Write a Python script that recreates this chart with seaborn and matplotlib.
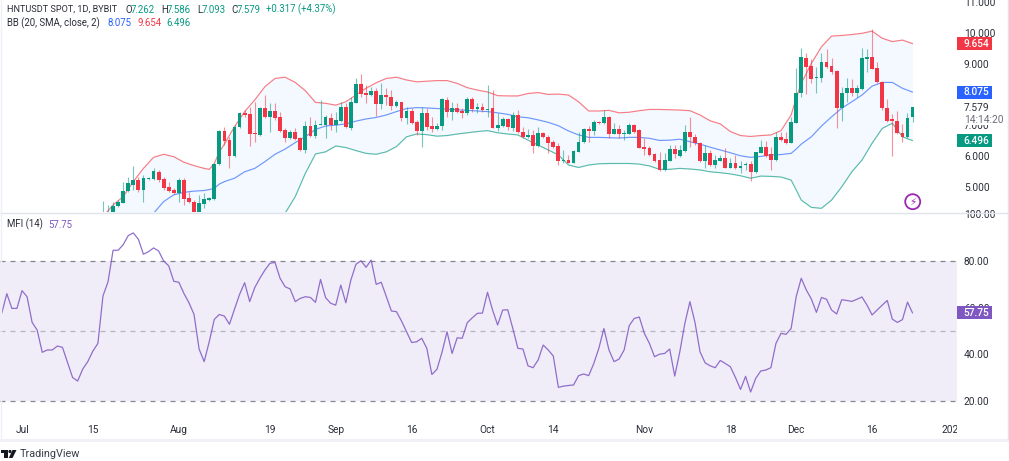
import numpy as np
import pandas as pd
import matplotlib
matplotlib.use("Agg")
import matplotlib.pyplot as plt
import seaborn as sns
from matplotlib.patches import Rectangle, Circle, Polygon
from matplotlib.lines import Line2D
from matplotlib.transforms import Affine2D, Bbox

# days counted from 1 Jul
candle_start = 16
opens = [4.02,4.02,4.13,4.37,4.47,4.86,5.05,5.21,4.89,5.23,5.24,5.48,5.23,4.97,4.89,4.80,5.21,4.61,4.51,4.13,4.43,4.57,4.59,5.73,6.81,6.51,6.00,6.93,7.38,7.35,6.73,6.68,7.55,7.27,7.46,7.25,6.84,6.58,6.78,6.58,6.19,6.98,6.66,7.01,7.00,7.24,7.00,
         7.14,7.58,6.92,7.73,8.34,8.03,7.97,8.12,7.68,7.98,7.92,7.62,7.74,7.22,7.46,7.09,6.81,7.38,6.98,6.88,6.97,7.82,7.44,7.55,7.46,7.38,7.84,7.52,7.58,7.50,7.55,6.91,6.98,7.20,6.89,7.33,6.78,6.62,6.68,6.32,6.74,6.62,6.44,6.32,5.82,5.86,5.77,6.13,6.44,6.87,6.81,7.10,7.06,7.27,6.72,6.86,6.71,6.72,7.00,6.83,6.29,6.24,6.05,5.86,5.54,5.84,6.23,6.01,
         6.17,6.78,6.60,6.43,5.83,6.08,5.70,5.84,5.94,5.61,5.75,5.61,5.69,5.73,5.47,6.10,6.29,6.06,5.86,6.61,6.54,6.43,7.08,8.03,9.20,8.93,8.53,8.53,9.07,8.93,8.76,7.55,8.03,8.21,8.06,8.18,9.16,9.21,8.85,8.41,7.55,7.16,7.13,6.73,6.60,7.262]
highs = [4.53,4.40,4.51,4.56,5.16,5.32,5.67,5.32,5.37,5.32,5.59,5.54,5.32,5.16,4.94,5.27,5.27,4.83,4.56,4.72,4.78,4.67,5.75,6.84,6.95,6.62,7.00,7.44,7.49,7.60,7.76,7.60,7.98,7.73,7.71,7.42,6.89,6.84,6.92,6.62,7.14,7.25,7.17,7.82,7.33,7.38,7.44,
         7.76,7.73,7.93,8.52,8.65,8.31,8.25,8.20,8.36,8.20,8.14,7.82,7.76,7.60,7.55,7.17,7.60,7.55,7.27,7.06,7.87,7.93,7.76,7.73,7.55,7.90,7.90,7.71,7.71,8.31,8.14,7.38,7.27,7.24,7.44,7.49,6.95,6.87,6.84,6.95,6.79,6.68,6.52,6.41,6.19,6.03,6.19,6.79,6.89,6.98,7.17,7.13,7.49,7.30,7.06,7.00,6.84,7.06,7.04,6.86,6.59,6.32,6.08,6.13,6.10,6.35,6.35,6.35,
         7.00,7.25,6.70,6.46,6.35,6.19,6.03,6.03,6.24,5.92,6.03,5.83,5.81,5.83,6.13,6.51,6.49,6.30,6.79,6.79,6.79,7.27,8.85,9.50,9.34,9.14,8.90,9.34,9.47,9.20,8.79,8.25,8.52,8.50,8.31,9.50,9.47,10.12,9.07,8.44,7.84,7.35,7.47,7.04,7.40,7.586]
lows = [3.91,3.95,4.05,4.32,4.45,4.83,4.89,4.83,4.51,5.21,5.21,5.16,4.89,4.83,4.75,4.51,4.40,4.45,4.02,4.02,4.29,4.54,4.56,5.70,6.35,5.61,5.97,6.89,7.27,6.33,6.46,6.64,7.22,6.79,7.17,6.76,6.46,6.54,6.51,6.17,6.08,6.62,6.57,6.99,6.57,6.84,6.79,
        7.11,6.89,6.84,7.71,7.93,7.73,7.95,7.31,7.52,7.65,7.49,7.58,7.14,7.03,7.04,6.68,6.30,6.84,6.79,6.84,6.84,7.27,7.17,7.40,7.22,7.33,7.44,7.40,7.42,7.27,6.89,6.82,6.95,6.84,6.82,6.73,6.57,6.57,6.10,6.28,6.57,6.08,6.24,5.70,5.75,5.75,5.75,6.11,6.41,6.44,6.68,7.04,7.04,6.59,6.70,6.57,6.51,6.70,6.73,6.24,6.03,6.00,5.81,5.52,5.52,5.82,5.92,5.97,
        6.13,6.30,6.35,5.81,5.59,5.67,5.59,5.82,5.59,5.59,5.58,5.43,5.54,5.19,5.45,6.08,5.97,5.54,5.84,6.48,6.38,6.41,7.06,7.90,8.01,8.36,8.03,8.41,8.85,8.66,6.89,7.13,7.76,7.95,7.93,8.15,8.74,8.82,8.36,7.49,7.11,6.00,6.71,6.46,6.57,7.093]
closes = [4.13,4.16,4.38,4.50,4.86,5.10,5.21,4.89,5.27,5.27,5.50,5.21,4.94,4.86,4.78,5.21,4.59,4.48,4.13,4.45,4.59,4.61,5.73,6.81,6.48,6.00,6.95,7.40,7.33,6.71,6.70,7.55,7.27,7.46,7.22,6.81,6.58,6.78,6.56,6.19,6.98,6.66,7.00,7.04,7.25,7.00,7.17,
          7.58,6.93,7.74,8.34,8.00,7.99,8.12,7.69,7.98,7.90,7.62,7.74,7.22,7.46,7.08,6.81,7.38,6.95,6.88,6.98,7.84,7.44,7.55,7.44,7.38,7.84,7.51,7.58,7.49,7.54,6.92,7.00,7.21,6.93,7.33,6.76,6.60,6.68,6.32,6.74,6.60,6.43,6.30,5.83,5.85,5.77,6.17,6.46,6.87,6.82,7.10,7.08,7.26,6.72,6.86,6.71,6.75,7.00,6.78,6.26,6.23,6.03,5.84,5.54,5.86,6.22,6.07,6.19,
          6.76,6.60,6.41,5.83,6.08,5.70,5.85,5.94,5.61,5.75,5.60,5.68,5.73,5.47,6.11,6.29,6.00,5.86,6.61,6.51,6.43,7.09,8.06,9.21,8.90,8.50,8.56,9.07,8.90,8.74,7.55,8.05,8.21,8.06,8.21,9.18,9.21,8.84,8.39,7.55,7.14,7.15,6.73,6.60,7.24,7.579]

band_days = [16,18,20,22,24,26,28,30,32,34,36,37,38,39,40,42,44,46,48,50,52,54,56,58,60,62,
             64,66,68,70,72,74,76,78,80,82,84,86,88,90,92,94,96,98,100,102,104,106,108,110,112,114,116,118,120,122,124,126,128,130,
             132,134,136,138,140,142,144,146,148,150,152,153,154,156,158,160,162,164,166,168,170,172,174,176]
bb_upper = [4.02,4.40,4.67,5.16,5.59,5.95,6.05,5.97,5.79,5.68,5.59,5.56,5.75,6.13,6.38,6.95,7.44,7.82,8.25,8.52,8.56,8.39,8.12,7.74,7.71,7.65,
            7.76,7.98,8.20,8.38,8.52,8.56,8.47,8.41,8.43,8.45,8.45,8.36,8.22,8.14,8.08,7.96,7.95,7.95,8.03,8.06,8.00,8.01,7.98,7.76,7.46,7.46,7.48,7.40,7.42,7.47,7.51,7.51,7.50,7.49,
            7.47,7.33,7.14,7.04,6.79,6.66,6.63,6.66,6.68,6.82,7.33,7.87,8.36,9.01,9.55,9.90,9.92,9.95,9.99,10.06,9.83,9.72,9.77,9.654]
bb_basis = [2.50,2.71,2.93,3.20,3.58,4.13,4.51,4.73,4.81,4.85,4.87,4.90,4.94,5.08,5.16,5.27,5.48,5.59,5.81,6.05,6.22,6.43,6.62,6.86,6.97,7.00,
            7.04,7.13,7.20,7.25,7.33,7.44,7.54,7.57,7.56,7.54,7.52,7.50,7.48,7.46,7.44,7.40,7.35,7.27,7.24,7.17,7.09,6.98,6.81,6.68,6.60,6.60,6.59,6.58,6.60,6.60,6.57,6.50,6.51,6.54,
            6.46,6.38,6.28,6.19,6.10,6.00,5.95,5.98,6.03,6.04,6.08,6.22,6.38,6.62,6.97,7.27,7.55,7.76,7.98,8.27,8.39,8.39,8.20,8.075]
bb_lower = [0.87,0.98,1.09,1.30,1.52,1.74,1.85,1.95,2.17,2.39,2.50,2.55,2.61,2.71,2.82,3.15,3.37,3.58,3.80,4.02,4.13,4.67,5.43,6.06,6.13,6.32,
            6.27,6.17,6.08,6.05,6.13,6.30,6.62,6.71,6.69,6.64,6.66,6.71,6.75,6.79,6.82,6.75,6.71,6.68,6.51,6.35,6.19,6.03,5.70,5.62,5.70,5.74,5.75,5.75,5.75,5.73,5.67,5.56,5.56,5.59,
            5.57,5.54,5.48,5.45,5.41,5.35,5.27,5.34,5.33,5.31,5.21,4.89,4.56,4.32,4.29,4.56,4.99,5.48,5.86,6.41,6.89,7.06,6.62,6.496]

mfi = [57.6,66,59.7,59.7,67.3,64.7,53.7,50.4,40.9,41.9,41.9,43.6,43,36.6,30.1,28.6,33.7,36.9,41.4,44.7,65,71.1,84.6,84.6,87,90.9,92,89.3,82.9,84,85.6,84.3,80,77.9,71.3,70.9,66.1,62.1,57.1,42.3,36.9,45.4,55,57.1,56.4,52.9,59.4,65.7,70.7,62.6,68.6,72.6,76.1,79,79.4,72.6,69,68,62.6,64,64.7,64.4,62.3,72.1,64.3,61.9,61.1,
       69.7,62.1,71.9,78.6,80.1,77.3,80.4,70,70.9,64.7,58.6,58.3,54.3,49.7,45.1,45.4,46.9,42.6,31.4,33.6,40.9,49.7,40.4,47.1,46.9,53.6,55.7,57.6,57.7,66.6,59,52.6,59,59.1,51.1,42.6,42.3,35.1,34.3,37.6,44,41.9,39.3,25.9,26.4,26.7,26.9,30.9,31.6,30.9,36.1,42.6,51.1,41.9,36.9,38,41.9,52.3,55.4,56,49,44.7,39,40.1,40.4,42.3,30.7,41.1,
       53.3,62.6,53.7,41.1,36.4,35.1,34.3,37.4,36.1,34.7,30.1,25,30.6,23.9,29.7,32.9,33.3,34.3,44.7,49,48.6,51.1,64.7,72.6,67.6,63.7,58,64.4,63.6,59,57.3,63.4,63.1,62.7,63.6,64.6,61.1,56.9,59,61.1,63.1,55.1,53.7,54.9,62.4,57.75]

time_ticks = [0,14,31,49,62,77,92,105,123,140,153,168,184]
time_labels = ["Jul","15","Aug","19","Sep","16","Oct","14","Nov","18","Dec","16","2025"]
price_ticks = [5,6,7,9,10,11]
mfi_ticks = [20,40,60,80,100]

GREEN = "#089981"
RED = "#F23645"
BLUE = "#2962FF"
PURPLE = "#7E57C2"
TEXT = "#2a2e39"
LABEL_SIZE = 7.3
LEGEND_SIZE = 6.9

sns.set_theme(style="white")
plt.rcParams["font.family"] = ["Roboto", "DejaVu Sans"]

W, H = 1009, 461
fig = plt.figure(figsize=(W / 100, H / 100), dpi=100, facecolor="white")
ax1 = fig.add_axes([0, 1 - 212 / H, 957 / W, 212 / H])
ax2 = fig.add_axes([0, 1 - 412 / H, 957 / W, 199 / H])
# pixel coords, origin top left
px = Affine2D().scale(1, -1).translate(0, H)


def px_text(x, y, s, color=TEXT, size=LEGEND_SIZE, **kw):
    fig.text(x, y, s, transform=px, color=color, fontsize=size, va="center", ha=kw.pop("ha", "left"), **kw)


def badge(ax, value, label, color):
    # coloured price tag on the right scale
    lo, hi = ax.get_ylim()
    h = 13 * (hi - lo) / (ax.get_position().height * H)
    ax.add_patch(Rectangle((1, value - h / 2), 35 / 957, h, transform=ax.get_yaxis_transform(),
                           facecolor=color, edgecolor="none", clip_on=False, zorder=5))
    ax.text(1 + 6.5 / 957, value, label, transform=ax.get_yaxis_transform(), color="white",
            fontsize=LABEL_SIZE, fontweight="medium", va="center", ha="left", zorder=6)


# =========== price pane ===========
candles = pd.DataFrame({"day": np.arange(candle_start, candle_start + len(opens)),
                        "open": opens, "high": highs, "low": lows, "close": closes})
candles["color"] = np.where(candles["close"] >= candles["open"], GREEN, RED)
bands = pd.DataFrame({"day": band_days, "upper": bb_upper, "basis": bb_basis, "lower": bb_lower})

ax1.fill_between(bands["day"], bands["lower"], bands["upper"], color="#2196F3", alpha=0.05, lw=0, zorder=1)
sns.lineplot(data=bands, x="day", y="upper", color=RED, lw=0.85, alpha=0.65, ax=ax1, zorder=2)
sns.lineplot(data=bands, x="day", y="basis", color=BLUE, lw=0.85, alpha=0.65, ax=ax1, zorder=2)
sns.lineplot(data=bands, x="day", y="lower", color=GREEN, lw=0.85, alpha=0.65, ax=ax1, zorder=2)

ax1.vlines(candles["day"], candles["low"], candles["high"], colors=candles["color"], lw=0.8, alpha=0.55, zorder=3)
ax1.bar(candles["day"], (candles["close"] - candles["open"]).abs().clip(lower=0.035),
        bottom=candles[["open", "close"]].min(axis=1), width=0.75, color=candles["color"], lw=0, zorder=4)

ax1.set_xlim(-22 / 5.06, 935 / 5.06)
ax1.set_ylim(4.17, 11.075)
ax1.set_xticks([])
ax1.set_yticks(price_ticks, [f"{p:.3f}" for p in price_ticks])
ax1.yaxis.tick_right()
ax1.tick_params(axis="y", length=0, pad=5, labelsize=LABEL_SIZE, labelcolor=TEXT)
ax1.set_xlabel("")
ax1.set_ylabel("")

badge(ax1, 9.654, "9.654", RED)
badge(ax1, 8.075, "8.075", BLUE)
badge(ax1, 6.496, "6.496", GREEN)
px_text(964, 108, "7.579", size=LABEL_SIZE)
px_text(964, 119.5, "14:14:20", color="#6a6d78", size=LABEL_SIZE,
        bbox=dict(facecolor="white", edgecolor="none", pad=0.6), zorder=6)

# =========== MFI pane ===========
mfi_days = np.arange(len(mfi)) + 177 - len(mfi)
ax2.axhspan(20, 80, color=PURPLE, alpha=0.1, lw=0, zorder=1)
ax2.axhline(80, color="#787B86", lw=0.9, ls=(0, (4, 4)), alpha=0.9, zorder=2)
ax2.axhline(50, color="#787B86", lw=0.9, ls=(0, (4, 4)), alpha=0.5, zorder=2)
ax2.axhline(20, color="#787B86", lw=0.9, ls=(0, (4, 4)), alpha=0.9, zorder=2)
sns.lineplot(x=mfi_days, y=mfi, color=PURPLE, lw=0.9, alpha=0.85, ax=ax2, zorder=3)

ax2.set_xlim(ax1.get_xlim())
ax2.set_ylim(80 - 151 / 2.335, 80 + 48 / 2.335)
ax2.set_xticks(time_ticks, time_labels)
ax2.set_yticks(mfi_ticks, [f"{m:.2f}" for m in mfi_ticks])
ax2.yaxis.tick_right()
ax2.tick_params(axis="y", length=0, pad=5, labelsize=LABEL_SIZE, labelcolor=TEXT)
ax2.tick_params(axis="x", length=0, pad=9.5, labelsize=LABEL_SIZE, labelcolor=TEXT)
ax2.set_xlabel("")
ax2.set_ylabel("")
for t in ax2.get_xticklabels():
    t.set_clip_box(Bbox.from_extents(0, 0, 957, H))
    t.set_clip_on(True)
badge(ax2, 57.75, "57.75", PURPLE)

sns.despine(fig=fig, left=True, bottom=True, right=True, top=True)

# =========== legends ===========
px_text(7, 9.5, "HNTUSDT SPOT, 1D, BYBIT", size=6.6)
for x, s in [(125, "O"), (161, "H"), (197, "L"), (231, "C")]:
    px_text(x, 9.5, s)
for x, s in [(131, "7.262"), (167, "7.586"), (201.5, "7.093"), (237, "7.579"), (266, "+0.317 (+4.37%)")]:
    px_text(x, 9.5, s, color=GREEN)
px_text(7, 23, "BB (20, SMA, close, 2)")
px_text(107, 23, "8.075", color=BLUE)
px_text(137, 23, "9.654", color=RED)
px_text(166, 23, "6.496", color=GREEN)
px_text(7, 224.5, "MFI (14)")
px_text(48, 224.5, "57.75", color=PURPLE)

# lightning badge
fig.add_artist(Circle((912.7, 201.7), 7.5, transform=px, facecolor="white", edgecolor="#9C27B0", lw=1.3))
px_text(912.7, 201.7, "\u26a1", color="#9C27B0", size=7.5, ha="center", family="DejaVu Sans")

# pane borders
for xs, ys, c, lw in [([0, 1009], [212.5, 212.5], "#e0e3eb", 1),
                      ([0, 1009], [439.5, 439.5], "#eef0f6", 2),
                      ([0.5, 0.5], [0, 439], "#eef0f6", 1),
                      ([1008, 1008], [0, 439], "#e0e3eb", 1)]:
    fig.add_artist(Line2D(xs, ys, transform=px, color=c, lw=lw))

# TradingView logo
fig.add_artist(Polygon([(1, 450), (7.5, 450), (7.5, 458), (4, 458), (4, 453), (1, 453)], transform=px, color="#131722", lw=0))
fig.add_artist(Circle((10, 451.5), 1.6, transform=px, color="#131722", lw=0))
fig.add_artist(Polygon([(12.5, 450), (16.5, 450), (12.5, 458), (8.8, 458)], transform=px, color="#131722", lw=0))
px_text(20, 454, "TradingView", color="#3a3e49", size=7.8)

fig.savefig("out.png", dpi=100, facecolor="white")
plt.close(fig)
